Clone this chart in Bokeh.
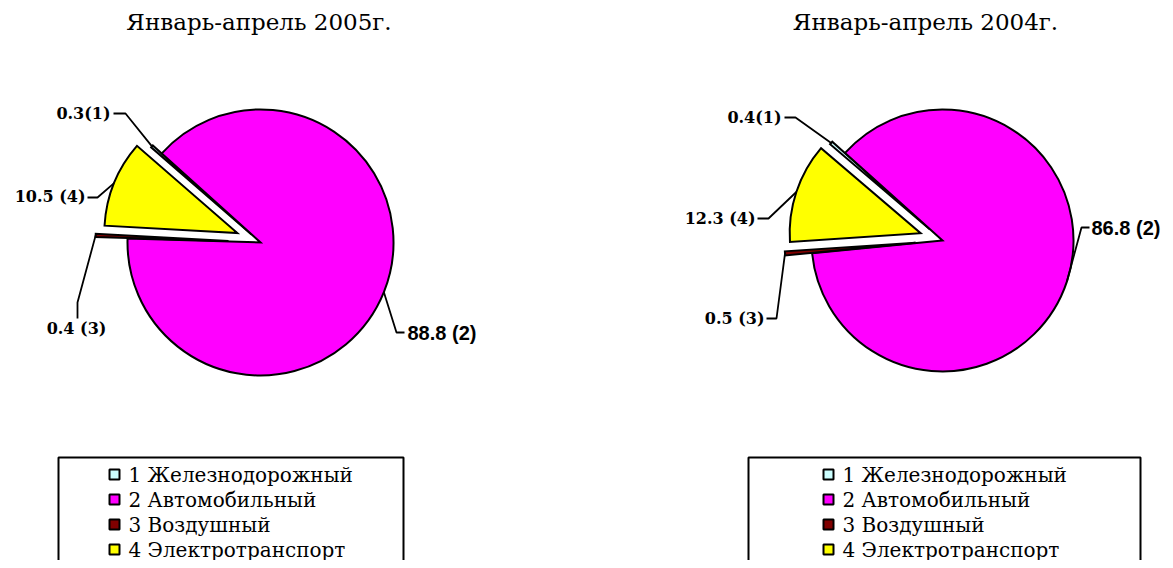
import math
from bokeh.plotting import figure
from bokeh.models import Range1d, ColumnDataSource
from bokeh.core.properties import value
from bokeh.embed import file_html
from bokeh.resources import INLINE

# ---------------- data ----------------
TITLES = ["Январь-апрель 2005г.", "Январь-апрель 2004г."]
CATEGORIES = ["1 Железнодорожный", "2 Автомобильный", "3 Воздушный", "4 Электротранспорт"]
VALUES_2005 = [0.3, 88.8, 0.4, 10.5]
VALUES_2004 = [0.4, 86.8, 0.5, 12.3]
LABELS_2005 = ["0.3(1)", "88.8 (2)", "0.4 (3)", "10.5 (4)"]
LABELS_2004 = ["0.4(1)", "86.8 (2)", "0.5 (3)", "12.3 (4)"]
COLORS = ["#CCFFFF", "#FF00FF", "#800000", "#FFFF00"]

# ---------------- layout ----------------
W, H = 1165, 560
SERIF = "DejaVu Serif"
SANS = "Liberation Sans"

PIES = [
    dict(values=VALUES_2005, labels=LABELS_2005, title=TITLES[0],
         cx=252, cy=318, r=133, start=139.0, explode=[12, 0, 32, 25], title_x=250.5,
         lab=[(102, 447, "right", SERIF, [(105, 447), (117, 447)]),
              (399, 228, "left", SANS, [(396, 228), (388, 228)]),
              (68, 232, "center", SERIF, [(69, 242), (69, 258)]),
              (77, 364, "right", SERIF, [(79, 363), (89, 363)])],
         legend_left=50, legend_right=395, sq_x=106, txt_x=120),
    dict(values=VALUES_2004, labels=LABELS_2004, title=TITLES[1],
         cx=934, cy=320, r=131, start=139.5, explode=[17, 0, 27, 23], title_x=917,
         lab=[(773, 443, "right", SERIF, [(776, 443), (787, 443)]),
              (1083, 333, "left", SANS, [(1081, 333), (1073, 333)]),
              (756, 242, "right", SERIF, [(758, 242), (768, 242)]),
              (747, 342, "right", SERIF, [(749, 342), (760, 342)])],
         legend_left=740, legend_right=1132, sq_x=820, txt_x=834),
]

p = figure(width=W, height=H, x_range=Range1d(-8, W - 8), y_range=Range1d(0, H),
           output_backend="svg", toolbar_location=None, min_border=0,
           x_axis_type=None, y_axis_type=None)
p.outline_line_color = None
p.background_fill_color = "white"

LEG_TOP = 103
ROW_Y0 = 86
ROW_STEP = 25

for pie in PIES:
    vals = pie["values"]
    total = sum(vals)
    cum = 0.0
    xs, ys, st, en, cols, rad = [], [], [], [], [], []
    lxs, lys = [], []
    for i, v in enumerate(vals):
        a0 = pie["start"] - (cum + v) / total * 360.0
        a1 = pie["start"] - cum / total * 360.0
        cum += v
        mid = math.radians((a0 + a1) / 2)
        off = pie["explode"][i]
        xs.append(pie["cx"] + off * math.cos(mid))
        ys.append(pie["cy"] + off * math.sin(mid))
        st.append(a0)
        en.append(a1)
        cols.append(COLORS[i])
        rad.append(pie["r"])
        ox = pie["cx"] + (pie["r"] + off) * math.cos(mid)
        oy = pie["cy"] + (pie["r"] + off) * math.sin(mid)
        pts = pie["lab"][i][4] + [(ox, oy)]
        lxs.append([q[0] for q in pts])
        lys.append([q[1] for q in pts])
    src = ColumnDataSource(dict(x=xs, y=ys, r=rad, start=st, end=en, color=cols))
    p.wedge(x="x", y="y", radius="r", start_angle="start", end_angle="end",
            start_angle_units="deg", end_angle_units="deg",
            direction="anticlock", fill_color="color",
            line_color="black", line_width=2, line_join="miter", source=src)
    p.multi_line(xs=lxs, ys=lys, line_color="black", line_width=1.8)

    for i, lab in enumerate(pie["labels"]):
        tx, ty, align, font, _ = pie["lab"][i]
        is_sans = font == SANS
        p.text(x=[tx], y=[ty], text=[lab], text_font=value(font), text_font_style="bold",
               text_font_size="20px" if is_sans else "16px",
               text_align=align, text_baseline="middle", text_color="black")

    p.text(x=[pie["title_x"]], y=[539], text=[pie["title"]], text_font=value(SERIF),
           text_font_size="23px", text_align="center", text_baseline="alphabetic",
           text_color="black")

    p.quad(left=[pie["legend_left"]], right=[pie["legend_right"]], top=[LEG_TOP],
           bottom=[-20], fill_color="white", line_color="black", line_width=2)
    rows_y = [ROW_Y0 - k * ROW_STEP for k in range(len(CATEGORIES))]
    p.rect(x=[pie["sq_x"]] * len(CATEGORIES), y=rows_y, width=10, height=10,
           fill_color=COLORS, line_color="black", line_width=2)
    p.text(x=[pie["txt_x"]] * len(CATEGORIES), y=rows_y, text=CATEGORIES,
           text_font=value(SERIF), text_font_size="20px", text_align="left",
           text_baseline="middle", text_color="black")

open("out.html", "w").write(file_html(p, INLINE))
